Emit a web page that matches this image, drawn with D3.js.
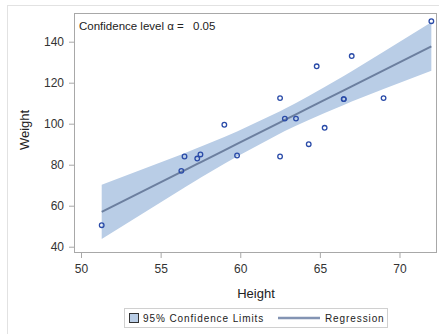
<!DOCTYPE html>
<html><head><meta charset="utf-8">
<script src="https://cdn.jsdelivr.net/npm/d3@7"></script>
<style>
html,body{margin:0;padding:0;background:#fff;}
text{font-family:"Liberation Sans",Arial,sans-serif;}
</style></head>
<body><svg id="c" width="439" height="334"></svg>
<script>
// Observations (Height, Weight)
const heights = [69.0,56.5,65.3,62.8,63.5,57.3,59.8,62.5,62.5,59.0,51.3,64.3,56.3,66.5,72.0,64.8,67.0,57.5,66.5];
const weights = [112.5,84.0,98.0,102.5,102.5,83.0,84.5,112.5,84.0,99.5,50.5,90.0,77.0,112.0,150.0,128.0,133.0,85.0,112.0];
// Fit and 95% confidence limits at sorted heights
const bandX     = [51.3,56.3,56.5,57.3,57.5,59.0,59.8,62.5,62.8,63.5,64.3,64.8,65.3,66.5,67.0,69.0,72.0];
const fitY      = [56.99,76.49,77.27,80.39,81.17,87.02,90.14,100.66,101.83,104.56,107.68,109.63,111.58,116.26,118.21,126.01,137.70];
const lowerY    = [43.81,67.96,68.91,72.67,73.60,80.48,84.04,95.23,96.38,98.98,101.84,103.57,105.26,109.18,110.77,116.94,125.86];
const upperY    = [70.18,85.01,85.63,88.11,88.73,93.55,96.23,106.10,107.29,110.14,113.52,115.69,117.90,123.33,125.64,135.07,149.54];
const xTicks = [50,55,60,65,70];
const yTicks = [40,60,80,100,120,140];

const svg = d3.select("#c");
const L=74, R=437, T=13, B=253;
const x = d3.scaleLinear().domain([49.56,72.355]).range([L,R]);
const y = d3.scaleLinear().domain([36.93,154.0]).range([B,T]);

// outer frame
svg.append("rect").attr("x",7.5).attr("y",5.5).attr("width",440).attr("height",340)
  .attr("fill","none").attr("stroke","#e2e2e2");

const band = bandX.map((v,i)=>({x:v,lo:lowerY[i],hi:upperY[i],f:fitY[i]}));
svg.append("path").datum(band)
  .attr("d", d3.area().x(d=>x(d.x)).y0(d=>y(d.lo)).y1(d=>y(d.hi)))
  .attr("fill","#b9cde6");
svg.append("path").datum(band)
  .attr("d", d3.line().x(d=>x(d.x)).y(d=>y(d.f)))
  .attr("fill","none").attr("stroke","#6c7f9f").attr("stroke-width",2);

svg.append("g").selectAll("circle").data(heights.map((h,i)=>[h,weights[i]])).join("circle")
  .attr("cx",d=>x(d[0])).attr("cy",d=>y(d[1])).attr("r",2.3)
  .attr("fill","none").attr("stroke","#2a4ba8").attr("stroke-width",1.3);

// plot frame
svg.append("rect").attr("x",L+0.5).attr("y",T+0.5).attr("width",R-L-1).attr("height",B-T-1)
  .attr("fill","none").attr("stroke","#a8a8a8");

// axes
const xa = svg.append("g").attr("transform",`translate(0,${B})`)
  .call(d3.axisBottom(x).tickValues(xTicks).tickSize(5).tickPadding(6).tickFormat(d3.format("d")));
const ya = svg.append("g").attr("transform",`translate(${L},0)`)
  .call(d3.axisLeft(y).tickValues(yTicks).tickSize(5).tickPadding(5).tickFormat(d3.format("d")));
[xa,ya].forEach(a=>{
  a.select(".domain").remove();
  a.selectAll(".tick line").attr("stroke","#a8a8a8");
  a.selectAll(".tick text").attr("fill","#333").style("font-size","12px")
   .style("font-family","'Liberation Sans',Arial,sans-serif");
});

svg.append("text").attr("x",256).attr("y",298).attr("text-anchor","middle")
  .style("font-size","13px").attr("fill","#222").text("Height");
svg.append("text").attr("transform","translate(29,130) rotate(-90)").attr("text-anchor","middle")
  .style("font-size","13px").attr("fill","#222").text("Weight");

svg.append("text").attr("x",79).attr("y",30).style("font-size","11.5px").attr("fill","#222")
  .text("Confidence level \u03b1 =");
svg.append("text").attr("x",193).attr("y",30).style("font-size","11.5px").attr("fill","#222")
  .text("0.05");

// legend
const lg = svg.append("g");
lg.append("rect").attr("x",124.5).attr("y",308.5).attr("width",263).attr("height",19)
  .attr("fill","#fff").attr("stroke","#d0d0d0");
lg.append("rect").attr("x",129.5).attr("y",313.5).attr("width",9).attr("height",9)
  .attr("fill","#b9cde6").attr("stroke","#333").attr("stroke-width",1);
lg.append("text").attr("x",143).attr("y",322).style("font-size","10px").style("letter-spacing","0.9px")
  .attr("fill","#222").text("95% Confidence Limits");
lg.append("line").attr("x1",278).attr("x2",320).attr("y1",318).attr("y2",318)
  .attr("stroke","#8394b3").attr("stroke-width",2.5);
lg.append("text").attr("x",325).attr("y",322).style("font-size","10px").style("letter-spacing","0.9px")
  .attr("fill","#222").text("Regression");
</script></body></html>
